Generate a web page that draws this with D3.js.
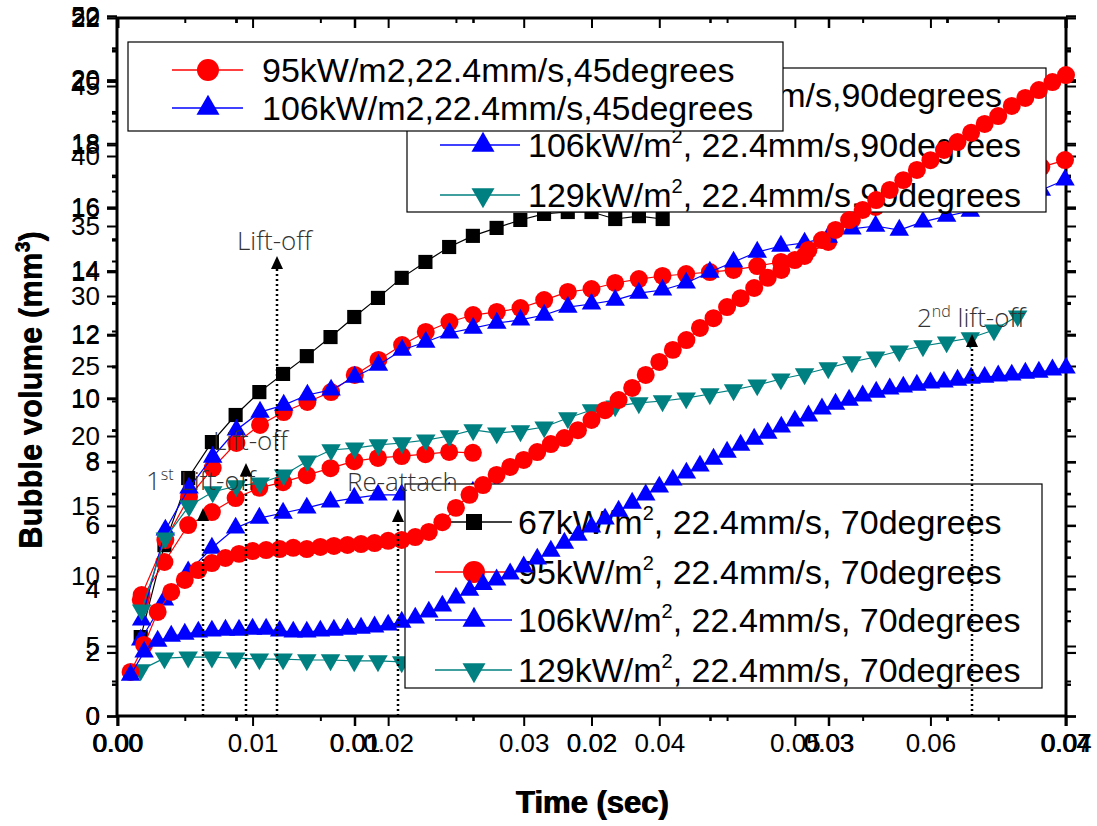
<!DOCTYPE html>
<html>
<head>
<meta charset="utf-8">
<script src="https://cdn.jsdelivr.net/npm/d3@7"></script>
<style>
  body { margin: 0; background: #fff; }
  svg { display: block; }
</style>
</head>
<body>
<svg id="chart"></svg>
<script>
// ---------------- data ----------------
// 45 degrees (time in ms)
const time45 = [1,2,3,4,5,6,7,8,9,10,11,12,13,14,15,16,17,18,19,20,21,22,23,24,25,26,27,28,29,30,
  31,32,33,34,35,36,37,38,39,40,41,42,43,44,45,46,47,48,49,50,51,52,53,54,55,56,57,58,59,60,
  61,62,63,64,65,66,67,68,69,70];
const red45 = [1.39,2.24,3.28,3.91,4.29,4.60,4.82,4.98,5.11,5.20,5.23,5.26,5.30,5.26,5.33,5.36,5.39,5.42,5.45,5.52,
  5.55,5.64,5.80,6.11,6.56,6.97,7.28,7.60,7.85,8.07,8.32,8.57,8.76,9.01,9.33,9.64,9.96,10.34,10.75,11.16,
  11.54,11.85,12.23,12.54,12.89,13.17,13.49,13.81,14.06,14.37,14.69,15.00,15.32,15.63,15.95,16.26,16.58,16.89,17.21,17.52,
  17.84,18.09,18.38,18.66,18.91,19.23,19.48,19.73,19.98,20.20];
const blue45 = [1.29,2.02,2.36,2.52,2.58,2.65,2.68,2.71,2.71,2.74,2.74,2.68,2.65,2.65,2.68,2.71,2.74,2.77,2.81,2.87,
  2.96,3.09,3.28,3.47,3.72,3.97,4.15,4.29,4.48,4.70,4.95,5.20,5.45,5.70,5.96,6.21,6.46,6.71,6.97,7.22,
  7.44,7.66,7.88,8.10,8.32,8.54,8.73,8.92,9.11,9.30,9.46,9.68,9.83,9.96,10.09,10.21,10.31,10.37,10.43,10.50,
  10.53,10.59,10.65,10.68,10.72,10.75,10.81,10.84,10.91,10.97];

// 70 degrees
const time70 = [1,2,3,4,5,6,7,8,9,10,11,12,13,14,15,16,17,18,19,20,21,22,23];
const black70 = [2.48,5.37,7.48,8.61,9.46,10.18,10.75,11.31,11.91,12.54,13.14,13.77,14.27,14.74,15.09,15.34,15.59,15.78,15.84,15.84,15.62,15.71,15.62];
const red70 = [3.65,4.84,6.00,6.41,6.85,7.17,7.35,7.57,7.79,8.01,8.11,8.17,8.23,8.30,8.27];
const blue70 = [2.39,3.65,4.53,5.28,5.91,6.22,6.38,6.54,6.73,6.85,6.95,6.95,7.01,7.01,7.04,7.10];
const teal70 = [1.45,1.82,1.85,1.85,1.82,1.79,1.79,1.76,1.76,1.73,1.73,1.70,1.63];

// 90 degrees
const time90 = [1,2,3,4,5,6,7,8,9,10,11,12,13,14,15,16,17,18,19,20,21,22,23,24,25,26,27,28,29,30,31,32,33,34,35,36,37,38,39,40];
const red90 = [8.64,12.57,15.64,17.71,19.50,20.79,21.71,22.43,23.14,24.36,25.43,26.50,27.43,28.14,28.64,28.86,29.14,29.71,30.29,30.50,
  30.93,31.21,31.43,31.57,31.71,31.86,32.14,32.43,32.86,33.86,35.43,36.36,36.71,37.07,37.43,37.86,38.29,38.71,39.21,39.71];
const blue90 = [6.86,13.29,16.29,18.50,20.43,21.71,22.21,22.93,23.29,24.21,25.07,26.14,26.71,27.36,27.71,28.07,28.29,28.64,29.21,29.43,
  29.71,30.21,30.43,30.93,31.71,32.43,33.14,33.57,33.79,34.21,34.79,35.00,34.71,35.29,35.71,36.07,36.57,37.00,37.57,38.29];
const teal90 = [7.57,12.71,15.00,16.00,16.43,16.64,17.21,18.21,19.00,19.14,19.36,19.50,19.71,20.00,20.43,20.21,20.36,20.64,21.29,21.86,
  22.14,22.36,22.50,22.71,23.00,23.29,23.64,24.07,24.43,24.86,25.29,25.64,26.07,26.43,26.71,27.00,27.57,28.57];

// ticks
const xTicks07 = [0, 0.01, 0.02, 0.03, 0.04, 0.05, 0.06, 0.07];
const xMinor07 = [0.005, 0.015, 0.025, 0.035, 0.045, 0.055, 0.065];
const xTicks04 = [0, 0.01, 0.02, 0.03, 0.04];
const xMinor04 = [0.005, 0.015, 0.025, 0.035];
const yTicks22 = [0, 2, 4, 6, 8, 10, 12, 14, 16, 18, 20, 22];
const yMinor22 = [1, 3, 5, 7, 9, 11, 13, 15, 17, 19, 21];
const yTicks50 = [0, 5, 10, 15, 20, 25, 30, 35, 40, 45, 50];
const yMinor50 = [2.5, 7.5, 12.5, 17.5, 22.5, 27.5, 32.5, 37.5, 42.5, 47.5];

// legends
const legend45 = ['95kW/m2,22.4mm/s,45degrees', '106kW/m2,22.4mm/s,45degrees'];
const legend90 = [['95kW/m', '2', ', 22.4mm/s,90degrees'],
                  ['106kW/m', '2', ', 22.4mm/s,90degrees'],
                  ['129kW/m', '2', ', 22.4mm/s,90degrees']];
const legend70 = [['67kW/m', '2', ', 22.4mm/s, 70degrees'],
                  ['95kW/m', '2', ', 22.4mm/s, 70degrees'],
                  ['106kW/m', '2', ', 22.4mm/s, 70degrees'],
                  ['129kW/m', '2', ', 22.4mm/s, 70degrees']];

// ---------------- layout ----------------
const width = 1097, height = 826;
const L = 117, R = 1066, T = 18, B = 716;
const arial = 'Arial, "Liberation Sans", sans-serif';

const black = '#000000', red = '#ff0000', blue = '#0000ff', teal = '#008080';

const x45 = d3.scaleLinear().domain([0, 0.07]).range([L, R]);
const x70 = d3.scaleLinear().domain([0, 0.04]).range([L, R]);
const x90 = d3.scaleLinear().domain([0, 0.04]).range([L + 1, R - 1]);
const y45 = d3.scaleLinear().domain([0, 22]).range([B, T]);
const y70 = d3.scaleLinear().domain([0, 22]).range([B, T - 2]);
const y90 = d3.scaleLinear().domain([0, 50]).range([B, T - 2]);

const svg = d3.select('#chart')
    .attr('width', width)
    .attr('height', height)
    .style('font-family', arial);

// ---------------- axes ----------------
const axes = svg.append('g').attr('class', 'axes');

function addX(scale, major, minor) {
    const fmt = d3.format('.2f');
    axes.append('g').attr('transform', `translate(0,${B})`)
        .call(d3.axisBottom(scale).tickValues(major).tickFormat(fmt).tickSize(10).tickPadding(8));
    axes.append('g').attr('transform', `translate(0,${B})`)
        .call(d3.axisBottom(scale).tickValues(minor).tickFormat('').tickSize(5));
    axes.append('g').attr('transform', `translate(0,${T})`)
        .call(d3.axisBottom(scale).tickValues(major).tickFormat('').tickSize(10));
    axes.append('g').attr('transform', `translate(0,${T})`)
        .call(d3.axisBottom(scale).tickValues(minor).tickFormat('').tickSize(5));
}
function addY(scale, major, minor) {
    axes.append('g').attr('transform', `translate(${L},0)`)
        .call(d3.axisLeft(scale).tickValues(major).tickSize(10).tickPadding(7));
    axes.append('g').attr('transform', `translate(${L},0)`)
        .call(d3.axisLeft(scale).tickValues(minor).tickFormat('').tickSize(5));
    axes.append('g').attr('transform', `translate(${R},0)`)
        .call(d3.axisRight(scale).tickValues(major).tickFormat('').tickSize(10));
    axes.append('g').attr('transform', `translate(${R},0)`)
        .call(d3.axisRight(scale).tickValues(minor).tickFormat('').tickSize(5));
}
addX(x45, xTicks07, xMinor07);
addX(x70, xTicks04, xMinor04);
addX(x90, xTicks04, xMinor04);
addY(y45, yTicks22, yMinor22);
addY(y70, yTicks22, yMinor22);
addY(y90, yTicks50, yMinor50);

axes.selectAll('.domain').remove();
axes.selectAll('.tick line').attr('stroke', '#000').attr('stroke-width', 2);
axes.selectAll('.tick text')
    .attr('font-size', 26)
    .attr('fill', '#000')
    .attr('font-family', arial);

svg.append('rect')
    .attr('x', L).attr('y', T)
    .attr('width', R - L).attr('height', B - T)
    .attr('fill', 'none')
    .attr('stroke', '#000')
    .attr('stroke-width', 3);

// axis titles (drawn twice, slightly offset, like the overlaid original)
[0, 1].forEach(o => {
    const yt = svg.append('text')
        .attr('transform', `translate(${41 + o},390) rotate(-90)`)
        .attr('text-anchor', 'middle')
        .attr('font-size', 31)
        .attr('font-weight', 'bold')
        .text('Bubble volume (mm');
    yt.append('tspan').attr('dy', -12).attr('font-size', 20).text('3');
    yt.append('tspan').attr('dy', 12).text(')');

    svg.append('text')
        .attr('x', 592 + o).attr('y', 813)
        .attr('text-anchor', 'middle')
        .attr('font-size', 31)
        .attr('font-weight', 'bold')
        .text('Time (sec)');
});

// ---------------- series ----------------
const shapes = {
    circle: d3.symbolCircle,
    square: d3.symbolSquare,
    up: d3.symbolTriangle,
    down: d3.symbolTriangle
};
const markerSize = { circle: 254, square: 200, up: 165, down: 165 };

function marker(sel, shape, size) {
    sel.attr('d', d3.symbol().type(shapes[shape]).size(size));
}

function drawSeries(g, xs, ys, times, values, color, shape) {
    const pts = values.map((v, i) => [xs(times[i] / 1000), ys(v)]);
    g.append('path')
        .attr('d', d3.line()(pts))
        .attr('fill', 'none')
        .attr('stroke', color)
        .attr('stroke-width', 1.2);
    g.selectAll(null)
        .data(pts)
        .enter()
        .append('path')
        .call(marker, shape, markerSize[shape])
        .attr('transform', d => `translate(${d[0]},${d[1]})` + (shape === 'down' ? ' rotate(180)' : ''))
        .attr('fill', color);
}

function drawLegend(g, box, rows) {
    g.append('rect')
        .attr('x', box.x).attr('y', box.y)
        .attr('width', box.w).attr('height', box.h)
        .attr('fill', '#fff')
        .attr('stroke', '#000')
        .attr('stroke-width', 1.2);
    rows.forEach((r, i) => {
        const cy = box.rowY[i];
        g.append('line')
            .attr('x1', box.lx1).attr('x2', box.lx2)
            .attr('y1', cy).attr('y2', cy)
            .attr('stroke', r.color)
            .attr('stroke-width', 1.4);
        g.append('path')
            .call(marker, r.shape, r.shape === 'circle' ? 380 : (r.shape === 'square' ? 256 : 230))
            .attr('transform', `translate(${box.mx},${cy})` + (r.shape === 'down' ? ' rotate(180)' : ''))
            .attr('fill', r.color);
        const t = g.append('text')
            .attr('x', box.tx).attr('y', cy + 12)
            .attr('font-size', 34)
            .attr('fill', '#000');
        if (typeof r.label === 'string') {
            t.text(r.label);
        } else {
            t.append('tspan').text(r.label[0]);
            t.append('tspan').attr('dy', -14).attr('font-size', 20).text(r.label[1]);
            t.append('tspan').attr('dy', 14).text(r.label[2]);
        }
    });
}

// 70 degrees (bottom layer)
const g70 = svg.append('g').attr('class', 'deg70');
drawSeries(g70, x70, y70, time70, black70, black, 'square');
drawSeries(g70, x70, y70, time70, red70, red, 'circle');
drawSeries(g70, x70, y70, time70, blue70, blue, 'up');
drawSeries(g70, x70, y70, time70, teal70, teal, 'down');
drawLegend(g70, { x: 405, y: 484, w: 637, h: 204, rowY: [522, 572, 620, 670], lx1: 435, lx2: 512, mx: 474, tx: 518 }, [
    { label: legend70[0], color: black, shape: 'square' },
    { label: legend70[1], color: red, shape: 'circle' },
    { label: legend70[2], color: blue, shape: 'up' },
    { label: legend70[3], color: teal, shape: 'down' }
]);

// 90 degrees
const g90 = svg.append('g').attr('class', 'deg90');
drawSeries(g90, x90, y90, time90, red90, red, 'circle');
drawSeries(g90, x90, y90, time90, blue90, blue, 'up');
drawSeries(g90, x90, y90, time90, teal90, teal, 'down');
drawLegend(g90, { x: 407, y: 68, w: 639, h: 144, rowY: [95, 145, 195], lx1: 440, lx2: 520, mx: 483, tx: 528 }, [
    { label: legend90[0], color: red, shape: 'circle' },
    { label: legend90[1], color: blue, shape: 'up' },
    { label: legend90[2], color: teal, shape: 'down' }
]);

// 45 degrees (top layer)
const g45 = svg.append('g').attr('class', 'deg45');
drawSeries(g45, x45, y45, time45, red45, red, 'circle');
drawSeries(g45, x45, y45, time45, blue45, blue, 'up');
drawLegend(g45, { x: 128, y: 42, w: 655, h: 89, rowY: [70, 108], lx1: 172, lx2: 243, mx: 208, tx: 262 }, [
    { label: legend45[0], color: red, shape: 'circle' },
    { label: legend45[1], color: blue, shape: 'up' }
]);

// ---------------- annotations ----------------
const notes = [
    { x: 203, tip: 508, text: ['1', 'st', ' Lift-off'], tx: 146, ty: 490 },
    { x: 246, tip: 463, text: ['Lift-off'], tx: 213, ty: 450 },
    { x: 277, tip: 256, text: ['Lift-off'], tx: 237, ty: 250 },
    { x: 398, tip: 509, text: ['Re-attach'], tx: 347, ty: 491 },
    { x: 972, tip: 334, text: ['2', 'nd', ' lift-off'], tx: 917, ty: 327 }
];
const ga = svg.append('g').attr('class', 'notes');
notes.forEach(n => {
    ga.append('line')
        .attr('x1', n.x).attr('x2', n.x)
        .attr('y1', B).attr('y2', n.tip + 12)
        .attr('stroke', '#000')
        .attr('stroke-width', 2.5)
        .attr('stroke-dasharray', '2,3');
    ga.append('path')
        .attr('d', `M${n.x},${n.tip} L${n.x - 6},${n.tip + 13} L${n.x + 6},${n.tip + 13} Z`)
        .attr('fill', '#000');
    const t = ga.append('text')
        .attr('x', n.tx).attr('y', n.ty)
        .style('font-family', '"Open Sans", "Noto Sans", sans-serif')
        .style('font-weight', 300)
        .attr('font-size', 26)
        .attr('fill', '#333');
    t.append('tspan').text(n.text[0]);
    if (n.text.length > 1) {
        t.append('tspan').attr('dy', -10).attr('font-size', 16).text(n.text[1]);
        t.append('tspan').attr('dy', 10).text(n.text[2]);
    }
});
</script>
</body>
</html>
